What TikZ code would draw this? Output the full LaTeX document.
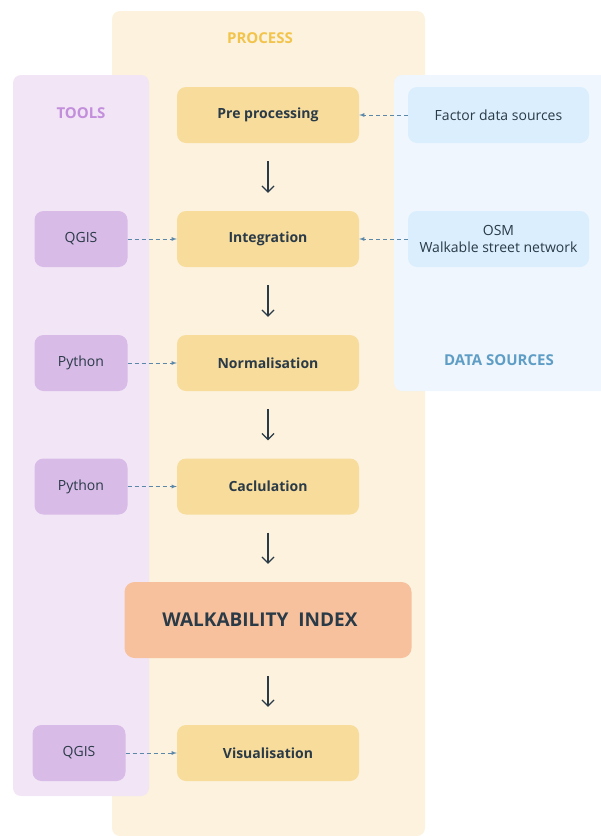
\documentclass[tikz,border=0pt]{standalone}
\usepackage{fontspec}
\setmainfont{Open Sans}
\usetikzlibrary{arrows.meta}

\definecolor{processbg}{HTML}{FCF2DE}
\definecolor{stagefill}{HTML}{F7DC9C}
\definecolor{toolsbg}{HTML}{F2E5F6}
\definecolor{toolfill}{HTML}{D9BBE8}
\definecolor{databg}{HTML}{EFF6FD}
\definecolor{datafill}{HTML}{DAEEFD}
\definecolor{indexfill}{HTML}{F7C19E}
\definecolor{ink}{HTML}{2A3A47}
\definecolor{linkblue}{HTML}{5B88A8}
\definecolor{processhead}{HTML}{F2C44C}
\definecolor{toolshead}{HTML}{C38EDB}
\definecolor{datahead}{HTML}{5E9DC5}

\tikzset{
  stage/.style={fill=stagefill, rounded corners=9pt, minimum width=182pt, minimum height=56pt,
    text=ink, font=\bfseries\fontsize{14}{16}\selectfont},
  tool/.style={fill=toolfill, rounded corners=9pt, minimum width=93pt, minimum height=56pt,
    text=ink, font=\fontsize{14}{16}\selectfont},
  source/.style={fill=datafill, rounded corners=9pt, minimum width=181pt, minimum height=56pt,
    text=ink, align=center, font=\fontsize{14}{17}\selectfont},
  head/.style={font=\bfseries\fontsize{15}{17}\selectfont},
  flow/.style={arrows={-Straight Barb[width=12pt, length=6pt]}, draw=ink, line width=1.2pt,
    shorten >=18pt, shorten <=18pt},
  link/.style={arrows={-latex}, draw=linkblue, line width=0.8pt, dash pattern=on 4pt off 3pt}
}

\begin{document}
\begin{tikzpicture}[x=1pt, y=-1pt]
	\useasboundingbox (0, 0) rectangle (601, 836);

	% panels
	\fill [processbg, rounded corners=8pt] (112, 11) rectangle (425, 836);
	\fill [toolsbg, rounded corners=8pt] (13, 75) rectangle (149, 796);
	\fill [databg, rounded corners=8pt] (394, 75) rectangle (620, 391);

	\node [head, text=processhead] (processhead) at (260, 38) {PROCESS};
	\node [head, text=toolshead] (toolshead) at (81, 113) {TOOLS};
	\node [head, text=datahead] (datahead) at (499, 360) {DATA SOURCES};

	% process
	\node [stage] (pre) at (268, 115) {Pre processing};
	\node [stage] (integ) at (268, 239) {Integration};
	\node [stage] (norm) at (268, 363) {Normalisation};
	\node [stage] (calc) at (268, 486.5) {Caclulation};
	\node [fill=indexfill, rounded corners=10pt, minimum width=287pt, minimum height=76pt,
		text=ink, font=\bfseries\fontsize{19}{22}\selectfont] (index) at (268, 620)
		{\hspace{-16pt}WALKABILITY\ \ INDEX};
	\node [stage] (vis) at (268, 753) {Visualisation};

	\draw [flow] (pre) -- (integ);
	\draw [flow] (integ) -- (norm);
	\draw [flow] (norm) -- (calc);
	\draw [flow] (calc) -- (index);
	\draw [flow] (index) -- (vis);

	% tools
	\node [tool] (qgisA) at (81, 239) {QGIS};
	\node [tool] (pyA) at (81, 363) {Python};
	\node [tool] (pyB) at (81, 486.5) {Python};
	\node [tool] (qgisB) at (79, 753) {QGIS};

	\draw [link] (qgisA) -- (integ);
	\draw [link] (pyA) -- (norm);
	\draw [link] (pyB) -- (calc);
	\draw [link] (qgisB) -- (vis);

	% data sources
	\node [source] (factors) at (498.5, 115) {Factor data sources};
	\node [source] (osm) at (498.5, 239) {OSM\\Walkable street network};

	\draw [link] (factors) -- (pre);
	\draw [link] (osm) -- (integ);
\end{tikzpicture}
\end{document}
